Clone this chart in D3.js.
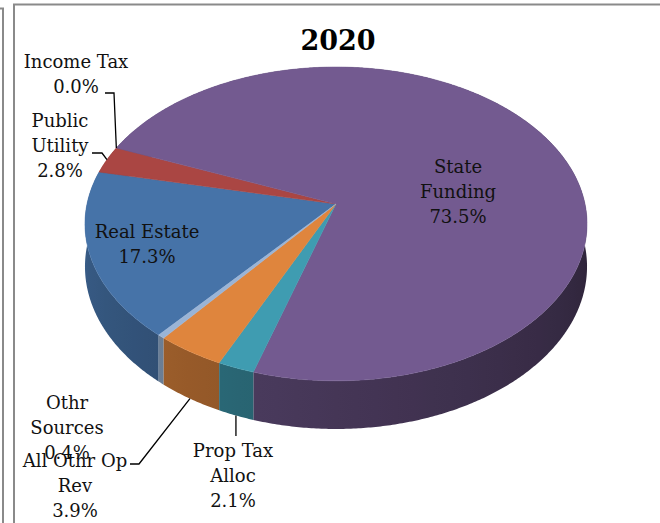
<!DOCTYPE html>
<html><head><meta charset="utf-8">
<script src="https://cdn.jsdelivr.net/npm/d3@7"></script>
<style>body{margin:0;background:#fff}svg{display:block}</style>
</head><body>
<script>
// ---- data ----
const categories = ["Real Estate","Public Utility","Income Tax","State Funding","Prop Tax Alloc","All Othr Op Rev","Othr Sources"];
const values = [17.3, 2.8, 0.0, 73.5, 2.1, 3.9, 0.4];
const labelNames = [["Real Estate"],["Public","Utility"],["Income Tax"],["State","Funding"],["Prop Tax","Alloc"],["All Othr Op","Rev"],["Othr","Sources"]];
const colors = ["#4673a8","#aa4643","#89a54e","#735a90","#3f9cb1","#df853d","#9ab4d6"];
const title = "2020";

const W = 660, H = 523;
const svg = d3.select("body").append("svg").attr("width", W).attr("height", H);
const defs = svg.append("defs");

// frames
svg.append("path").attr("d","M0,8.5 H3 V523").attr("fill","none").attr("stroke","#8a8a8a").attr("stroke-width",2);
svg.append("path").attr("d","M14,523 V4.5 H660").attr("fill","none").attr("stroke","#8a8a8a").attr("stroke-width",2);

// projection of 3D pie
const cx = 336, cy = 204, S = 249, SY = 154.4, K = 0.127, DH = 42;
function proj(t, z) {
  const x = Math.sin(t), y = -Math.cos(t);
  const sc = 1 / (1 - K * y);
  return [cx + S * x * sc, cy + (SY * y + DH * z) * sc];
}
const deg = Math.PI / 180;
const start = 220 * deg;
const pie = d3.pie().sort(null).startAngle(start).endAngle(start + 2 * Math.PI).value(d => d);
const arcs = pie(values).filter(a => a.endAngle > a.startAngle);

function shadeF(tdeg) {
  let f = 0.38 + (tdeg - 90) / 180 * 0.44;
  return Math.max(0.38, Math.min(0.82, f));
}
const x0 = 80, x1 = 592;
arcs.forEach(a => {
  const g = defs.append("linearGradient").attr("id", "side" + a.index)
    .attr("gradientUnits", "userSpaceOnUse").attr("x1", x0).attr("x2", x1).attr("y1", 0).attr("y2", 0);
  const c = d3.rgb(colors[a.index]);
  for (let td = 268; td >= 92; td -= 4) {
    const px = proj(td * deg, 0)[0];
    const f = shadeF(td);
    g.append("stop").attr("offset", Math.max(0, Math.min(1, (px - x0) / (x1 - x0))))
      .attr("stop-color", d3.rgb(c.r * f, c.g * f, c.b * f).formatHex());
  }
});

const line = d3.line();
// sides (back first)
const sides = arcs.slice().sort((a, b) => -Math.cos(mid(a)) - -Math.cos(mid(b)));
function mid(a) { return (a.startAngle + a.endAngle) / 2; }
svg.append("g").selectAll("path").data(sides).join("path")
  .attr("d", a => {
    const n = Math.max(2, Math.ceil((a.endAngle - a.startAngle) / (0.5 * deg)));
    const top = [], bot = [];
    for (let k = 0; k <= n; k++) {
      const t = a.startAngle + (a.endAngle - a.startAngle) * k / n;
      top.push(proj(t, 0)); bot.push(proj(t, 1));
    }
    return line(top.concat(bot.reverse())) + "Z";
  })
  .attr("fill", a => `url(#side${a.index})`);

// top faces
svg.append("g").selectAll("path").data(arcs).join("path")
  .attr("d", a => {
    const pts = [[cx, cy]];
    const n = Math.max(2, Math.ceil((a.endAngle - a.startAngle) / (0.5 * deg)));
    for (let k = 0; k <= n; k++) pts.push(proj(a.startAngle + (a.endAngle - a.startAngle) * k / n, 0));
    return line(pts) + "Z";
  })
  .attr("fill", a => colors[a.index])
  .attr("stroke", a => colors[a.index]).attr("stroke-width", 0.5);

// leader lines
const all = pie(values);
const leaders = [];
{ const p = proj(mid(all[2]), 0); leaders.push([[105, 93], [114, 93], p]); }
{ const p = proj(mid(all[1]), 0); leaders.push([[92, 153], [102, 153], p]); }
{ const p = proj(mid(all[5]), 1); leaders.push([[130, 464], [139, 464], p]); }
{ const p = proj(mid(all[4]), 1); leaders.push([[p[0], 436], p]); }
svg.append("g").selectAll("path").data(leaders).join("path")
  .attr("d", d => line(d)).attr("fill", "none").attr("stroke", "#000").attr("stroke-width", 1.3);

// labels
const labelPos = [[147, 231], [60, 120], [76, 61], [458, 166], [233, 450], [75, 460], [67, 402]];
const fs = 18, lh = 25;
const lg = svg.append("g").attr("font-family", "'DejaVu Serif', serif").attr("font-size", fs).attr("fill", "#111").attr("text-anchor", "middle");
categories.forEach((c, i) => {
  const lines = labelNames[i].concat([values[i].toFixed(1) + "%"]);
  const t = lg.append("text");
  lines.forEach((s, j) => {
    t.append("tspan").attr("x", labelPos[i][0]).attr("y", labelPos[i][1] + j * lh + 6.5).text(s);
  });
});

svg.append("text").attr("x", 338).attr("y", 50).attr("text-anchor", "middle")
  .attr("font-family", "'DejaVu Serif', serif").attr("font-weight", "bold").attr("font-size", 27).attr("fill", "#000").text(title);
</script>
</body></html>
